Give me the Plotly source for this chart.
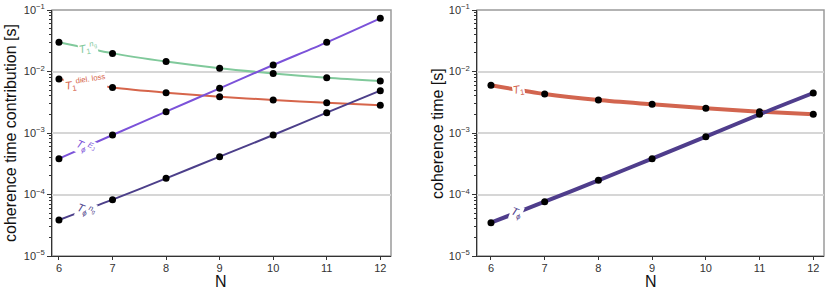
import math
import plotly.graph_objects as go

N = [6, 7, 8, 9, 10, 11, 12]

# left panel: coherence time contributions [s]
T1_ng = [0.0298, 0.0197, 0.0145, 0.0113, 0.0093, 0.0079, 0.0070]
T1_diel = [0.00755, 0.0055, 0.00453, 0.0039, 0.00344, 0.00311, 0.00282]
Tphi_EJ = [3.83e-4, 9.27e-4, 2.22e-3, 5.32e-3, 0.01277, 0.0298, 0.0733]
Tphi_ng = [3.85e-5, 8.24e-5, 1.83e-4, 4.12e-4, 9.27e-4, 2.14e-3, 4.88e-3]

# right panel: total coherence times [s]
T1_tot = [5.96e-3, 4.31e-3, 3.44e-3, 2.93e-3, 2.52e-3, 2.22e-3, 2.01e-3]
Tphi_tot = [3.48e-5, 7.63e-5, 1.70e-4, 3.83e-4, 8.7e-4, 2.01e-3, 4.47e-3]

y_tickvals = [1e-5, 1e-4, 1e-3, 1e-2, 1e-1]
y_ticktext = ["10<sup>\u22125</sup>", "10<sup>\u22124</sup>", "10<sup>\u22123</sup>",
              "10<sup>\u22122</sup>", "10<sup>\u22121</sup>"]

GREEN = "#80c99b"
RED = "#d6654b"
PURPLE = "#7b52d9"
DARK = "#4c3f8a"
RED2 = "#d2654f"
DARK2 = "#4f3d8c"

FONT = "Liberation Sans, Arial, sans-serif"

fig = go.Figure()

# pixel scales (used for label rotation)
PX_DEC = 61.5
PX_N = 53.6


def add_series(y, color, width, xa, ya, msize):
    fig.add_trace(go.Scatter(
        x=N, y=y, mode="lines", line=dict(color=color, width=width, shape="spline", smoothing=0.8),
        xaxis=xa, yaxis=ya, showlegend=False, hoverinfo="skip"))
    fig.add_trace(go.Scatter(
        x=N, y=y, mode="markers", marker=dict(color="black", size=msize),
        xaxis=xa, yaxis=ya, showlegend=False))


def add_label(y, text, color, xref, yref, f=0.5):
    l0, l1 = math.log10(y[0]), math.log10(y[1])
    yy = 10 ** (l0 + f * (l1 - l0))
    ang = -math.degrees(math.atan((l1 - l0) * PX_DEC / PX_N))
    fig.add_annotation(x=N[0] + f, y=math.log10(yy), xref=xref, yref=yref, text=text,
                       showarrow=False, textangle=-ang, bgcolor="white", borderpad=0,
                       xanchor="center", yanchor="middle",
                       font=dict(family=FONT, size=11, color=color))


add_series(T1_ng, GREEN, 2, "x", "y", 7)
add_series(T1_diel, RED, 2, "x", "y", 7)
add_series(Tphi_EJ, PURPLE, 2, "x", "y", 7)
add_series(Tphi_ng, DARK, 2, "x", "y", 7)
add_series(T1_tot, RED2, 4, "x2", "y2", 7)
add_series(Tphi_tot, DARK2, 4, "x2", "y2", 7)

add_label(T1_ng, "<i>T</i><sub>1</sub><sup><i>n</i><sub>g</sub></sup>", GREEN, "x", "y", 0.55)
add_label(T1_diel, "<i>T</i><sub>1</sub><sup>diel. loss</sup>", RED, "x", "y", 0.5)
add_label(Tphi_EJ, "<i>T</i><sub>ϕ</sub><sup><i>E</i><sub>J</sub></sup>", PURPLE, "x", "y", 0.5)
add_label(Tphi_ng, "<i>T</i><sub>ϕ</sub><sup><i>n</i><sub>g</sub></sup>", DARK, "x", "y", 0.5)
add_label(T1_tot, "<i>T</i><sub>1</sub>", RED2, "x2", "y2", 0.52)
add_label(Tphi_tot, "<i>T</i><sub>ϕ</sub>", DARK2, "x2", "y2", 0.48)

W, H = 831, 290
xaxis_common = dict(
    tickvals=N, ticktext=[str(n) for n in N], ticks="outside", ticklen=3, tickcolor="#333",
    showline=True, linecolor="#333", linewidth=1, showgrid=False, zeroline=False,
    tickfont=dict(family=FONT, size=11, color="#333"), automargin=False,
    ticklabelstandoff=-1,
)
yaxis_common = dict(
    type="log", range=[-5, -1], tickvals=y_tickvals, ticktext=y_ticktext,
    ticks="outside", ticklen=4, tickcolor="#333", showline=True, linecolor="#333", linewidth=1,
    showgrid=True, gridcolor="#d6d6d6", gridwidth=1.5, zeroline=False,
    tickfont=dict(family=FONT, size=11, color="#333"), automargin=False,
    minor=dict(ticks="outside", ticklen=2, tickcolor="#333", showgrid=False,
               tickvals=[k * 10 ** e for e in range(-5, -1) for k in range(2, 10)]),
)

xd1 = [52 / W, 391 / W]
xd2 = [477 / W, 824 / W]
yd = [34 / H, 280 / H]

fig.update_layout(
    width=W, height=H, margin=dict(l=0, r=0, t=0, b=0),
    paper_bgcolor="white", plot_bgcolor="white",
    xaxis=dict(xaxis_common, domain=xd1, range=[5.87, 12.2], anchor="y"),
    yaxis=dict(yaxis_common, domain=yd, anchor="x"),
    xaxis2=dict(xaxis_common, domain=xd2, range=[5.74, 12.2], anchor="y2"),
    yaxis2=dict(yaxis_common, domain=yd, anchor="x2"),
)

# gray frame (top/right spines)
for xr, yr in (("x domain", "y domain"), ("x2 domain", "y2 domain")):
    fig.add_shape(type="rect", xref=xr, yref=yr, x0=0, x1=1, y0=0, y1=1,
                  line=dict(color="#9a9a9a", width=1.5), layer="below")

# axis titles
title_font = dict(family=FONT, size=16, color="#111")
fig.add_annotation(text="coherence time contribution [s]", x=10 / W, y=(H - 133) / H,
                   xref="paper", yref="paper", textangle=-90, showarrow=False,
                   xanchor="center", yanchor="middle", font=title_font)
fig.add_annotation(text="coherence time [s]", x=437 / W, y=(H - 133) / H,
                   xref="paper", yref="paper", textangle=-90, showarrow=False,
                   xanchor="center", yanchor="middle", font=title_font)
fig.add_annotation(text="N", x=(52 + 391) / 2 / W, y=(H - 281) / H,
                   xref="paper", yref="paper", showarrow=False,
                   xanchor="center", yanchor="middle", font=title_font)
fig.add_annotation(text="N", x=(477 + 824) / 2 / W, y=(H - 281) / H,
                   xref="paper", yref="paper", showarrow=False,
                   xanchor="center", yanchor="middle", font=title_font)

fig.write_html("out.html", config={"displayModeBar": False},
               post_script="document.body.style.margin='0';")
